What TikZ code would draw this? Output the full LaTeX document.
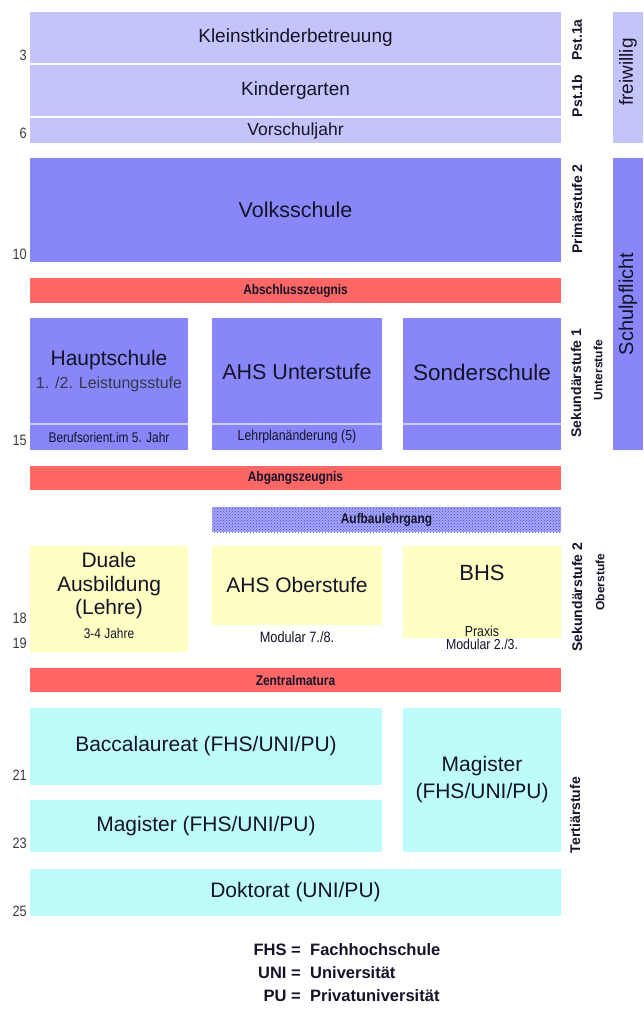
\documentclass[tikz,border=0pt]{standalone}
\usepackage{fontspec}
\setmainfont{Liberation Sans}
\newfontfamily\narrowfont[FakeStretch=0.85]{Liberation Sans}
\usetikzlibrary{patterns}
\definecolor{lavL}{RGB}{196,196,250}
\definecolor{lavD}{RGB}{136,134,248}
\definecolor{redbar}{RGB}{255,102,102}
\definecolor{yel}{RGB}{255,255,196}
\definecolor{cyn}{RGB}{190,252,252}
\definecolor{aufBase}{RGB}{165,165,250}
\definecolor{aufDot}{RGB}{70,70,210}
\definecolor{ink}{RGB}{20,20,40}
\definecolor{numgray}{RGB}{60,60,60}
\definecolor{sepline}{RGB}{205,205,255}
\begin{document}
\begin{tikzpicture}[x=1pt,y=-1pt,
  blk/.style={inner sep=0pt, outer sep=0pt, anchor=north west, draw=none, text=ink, align=center},
  wh/.style 2 args={minimum width=#1pt, minimum height=#2pt},
  big/.style={font=\fontsize{21}{24}\selectfont},
  mid/.style={font=\fontsize{18.5}{21}\selectfont},
  small/.style={font=\fontsize{13.5}{15}\selectfont, text=ink, inner sep=0pt},
  barlbl/.style={font=\narrowfont\bfseries\fontsize{14}{16}\selectfont},
  vlbl/.style={rotate=90, font=\bfseries\fontsize{14}{16}\selectfont, text=ink, inner sep=0pt},
  vsub/.style={rotate=90, font=\bfseries\fontsize{12}{14}\selectfont, text=ink, inner sep=0pt},
  vbig/.style={rotate=90, font=\fontsize{20}{23}\selectfont, text=ink, inner sep=0pt},
  num/.style={anchor=east, font=\narrowfont\fontsize{15}{17}\selectfont, text=numgray, inner sep=0pt},
  leg/.style={font=\bfseries\fontsize{16.5}{19}\selectfont, text=ink, inner sep=0pt},
  sep/.style={draw=sepline, line width=1.2pt},
]
\useasboundingbox (0,0) rectangle (643,1011);
\fill[white] (0,0) rectangle (643,1011);

% Pre-school
\node[blk, fill=lavL, wh={531}{51}, mid, font=\fontsize{19}{21}\selectfont] (kk) at (30,12) {Kleinstkinderbetreuung};
\node[blk, fill=lavL, wh={531}{51}, mid, font=\fontsize{19}{21}\selectfont] (kg) at (30,65) {Kindergarten};
\node[blk, fill=lavL, wh={531}{25}, font=\fontsize{17.5}{19}\selectfont] (vs) at (30,118) {Vorschuljahr};
\node[blk, fill=lavL, wh={30}{131}] (fw) at (613,12) {};
\node[vbig, font=\fontsize{19}{21}\selectfont] (fwT) at (628,72) {freiwillig};

% Primary
\node[blk, fill=lavD, wh={531}{104}, font=\fontsize{21.5}{24}\selectfont] (volks) at (30,158) {Volksschule};
\node[blk, fill=lavD, wh={30}{292}] (sp) at (613,158) {};
\node[vbig] (spT) at (sp.center) {Schulpflicht};

\node[blk, fill=redbar, wh={531}{25}, barlbl] (abschl) at (30,278) {Abschlusszeugnis};

% Secondary 1
\node[blk, fill=lavD, wh={158}{132}] (haupt) at (30,318) {};
\node[blk, fill=lavD, wh={170}{132}] (ahsU) at (212,318) {};
\node[blk, fill=lavD, wh={158}{132}] (sonder) at (403,318) {};
\draw[sep] (haupt.west |- 0,424) coordinate (hs1) -- (haupt.east |- 0,424) coordinate (hs2);
\draw[sep] (ahsU.west |- 0,424) coordinate (as1) -- (ahsU.east |- 0,424) coordinate (as2);
\draw[sep] (sonder.west |- 0,424) coordinate (ss1) -- (sonder.east |- 0,424) coordinate (ss2);
\node[big, text=ink, inner sep=0pt] (hauptT) at (109,360) {Hauptschule};
\node[font=\fontsize{16}{17}\selectfont, text=ink!85, inner sep=0pt] (hauptS) at (109,384) {1. /2. Leistungsstufe};
\node[small, font=\narrowfont\fontsize{14}{16}\selectfont] (hauptB) at (109,437) {Berufsorient.im 5. Jahr};
\node[big, text=ink, inner sep=0pt, font=\fontsize{21.5}{24}\selectfont] (ahsUT) at (297,372) {AHS Unterstufe};
\node[small, font=\narrowfont\fontsize{14.5}{16}\selectfont] (ahsUB) at (297,437) {Lehrplanänderung (5)};
\node[big, text=ink, inner sep=0pt, font=\fontsize{22.5}{24}\selectfont] (sonderT) at (482,372) {Sonderschule};

\node[blk, fill=redbar, wh={531}{24}, barlbl] (abgang) at (30,466) {Abgangszeugnis};
\node[blk, fill=aufBase, postaction={pattern=crosshatch dots, pattern color=aufDot}, wh={349}{25}] (aufbau) at (212,507) {};
\node[barlbl, text=ink, inner sep=0pt] (aufbauT) at (aufbau.center) {Aufbaulehrgang};

% Secondary 2
\node[blk, fill=yel, wh={158}{106}] (duale) at (30,546) {};
\node[blk, fill=yel, wh={170}{79}] (ahsO) at (212,546) {};
\node[blk, fill=yel, wh={158}{92}] (bhs) at (403,546) {};
\node[big, text=ink, inner sep=0pt, align=center, font=\fontsize{21}{23.5}\selectfont] (dualeT) at (109,586) {Duale\\Ausbildung\\(Lehre)};
\node[small, font=\narrowfont\fontsize{14}{16}\selectfont] (dualeB) at (109,633) {3-4 Jahre};
\node[big, text=ink, inner sep=0pt] (ahsOT) at (297,585) {AHS Oberstufe};
\node[small, font=\narrowfont\fontsize{15}{16}\selectfont] (ahsOB) at (297,637) {Modular 7./8.};
\node[big, text=ink, inner sep=0pt, font=\fontsize{22}{24}\selectfont] (bhsT) at (482,573) {BHS};
\node[small, font=\narrowfont\fontsize{14.5}{16}\selectfont] (bhsP) at (482,631) {Praxis};
\node[small, font=\narrowfont\fontsize{14.5}{16}\selectfont] (bhsM) at (482,644) {Modular 2./3.};

\node[blk, fill=redbar, wh={531}{24}, barlbl] (zentral) at (30,668) {Zentralmatura};

% Tertiary
\node[blk, fill=cyn, wh={352}{77}, big] (bacc) at (30,708) {Baccalaureat (FHS/UNI/PU)};
\node[blk, fill=cyn, wh={352}{52}, big] (magL) at (30,800) {Magister (FHS/UNI/PU)};
\node[blk, fill=cyn, wh={158}{144}, big, font=\fontsize{21}{27}\selectfont] (magR) at (403,708) {Magister\\(FHS/UNI/PU)};
\node[blk, fill=cyn, wh={531}{47}, big] (dokt) at (30,869) {Doktorat (UNI/PU)};

% Stage labels
\node[vlbl] (pst1a) at (577,40) {Pst.1a};
\node[vlbl] (pst1b) at (577,96) {Pst.1b};
\node[vlbl] (prim) at (577,209) {Primärstufe 2};
\node[vlbl] (sek1) at (576,383) {Sekundärstufe 1};
\node[vsub] (unter) at (598,370) {Unterstufe};
\node[vlbl] (sek2) at (577,597) {Sekundärstufe 2};
\node[vsub] (ober) at (600,582) {Oberstufe};
\node[vlbl] (tert) at (575,815) {Tertiärstufe};

% Age numbers
\node[num] (n3) at (27,55) {3};
\node[num] (n6) at (27,133) {6};
\node[num] (n10) at (27,254) {10};
\node[num] (n15) at (27,440) {15};
\node[num] (n18) at (27,618) {18};
\node[num] (n19) at (27,643) {19};
\node[num] (n21) at (27,775) {21};
\node[num] (n23) at (27,843) {23};
\node[num] (n25) at (27,911) {25};

% Legend
\node[leg, anchor=east] (l1a) at (301,950) {FHS =};
\node[leg, anchor=west] (l1b) at (310,950) {Fachhochschule};
\node[leg, anchor=east] (l2a) at (301,973) {UNI =};
\node[leg, anchor=west] (l2b) at (310,973) {Universität};
\node[leg, anchor=east] (l3a) at (301,996) {PU =};
\node[leg, anchor=west] (l3b) at (310,996) {Privatuniversität};
\end{tikzpicture}
\end{document}
